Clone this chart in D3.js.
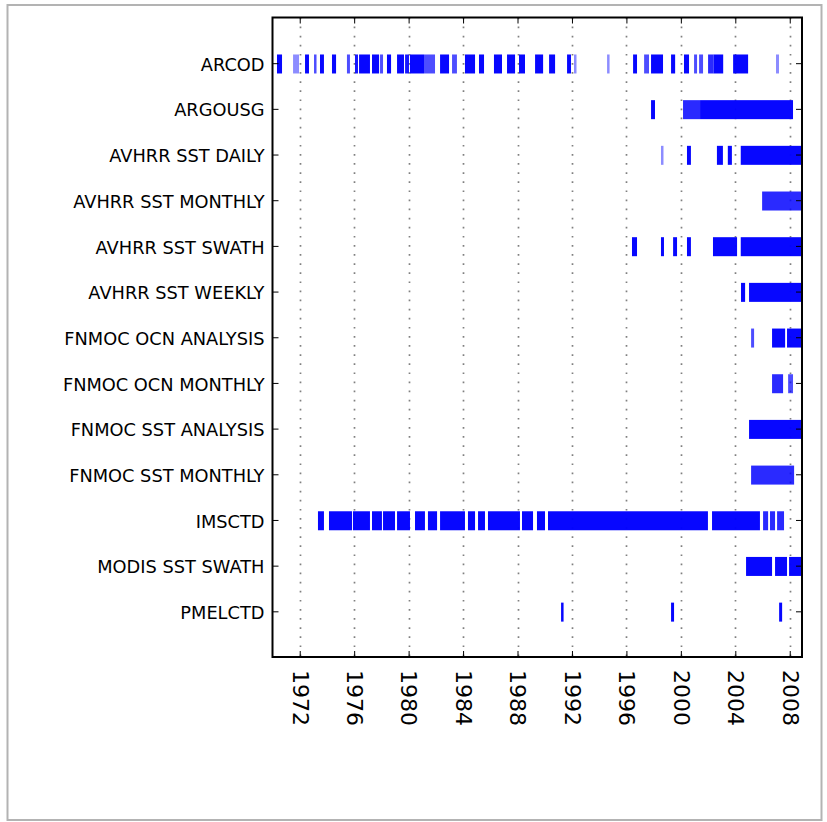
<!DOCTYPE html>
<html>
<head>
<meta charset="utf-8">
<script src="https://cdn.jsdelivr.net/npm/d3@7"></script>
<style>
  html, body { margin: 0; padding: 0; background: #fff; }
  svg { display: block; }
  text { font-family: "DejaVu Sans", sans-serif; fill: #000; }
</style>
</head>
<body>
<svg id="chart" width="827" height="822"></svg>
<script>
// ---- data (years as decimal; [start, end, records overlapping]) ----
const categories = ["ARCOD", "ARGOUSG", "AVHRR SST DAILY", "AVHRR SST MONTHLY", "AVHRR SST SWATH",
  "AVHRR SST WEEKLY", "FNMOC OCN ANALYSIS", "FNMOC OCN MONTHLY", "FNMOC SST ANALYSIS",
  "FNMOC SST MONTHLY", "IMSCTD", "MODIS SST SWATH", "PMELCTD"];

const xTickYears = [1972, 1976, 1980, 1984, 1988, 1992, 1996, 2000, 2004, 2008];
const xDomain = [1970, 2008.9];

const arcod = [
  [1970.33, 1970.70, 6], [1971.51, 1971.95, 1], [1972.39, 1972.68, 6], [1973.05, 1973.20, 2],
  [1973.49, 1973.78, 6], [1974.37, 1974.67, 6], [1975.47, 1975.69, 2], [1976.06, 1976.28, 4],
  [1976.36, 1977.16, 6], [1977.31, 1977.83, 6], [1977.90, 1978.12, 2], [1978.41, 1978.71, 6],
  [1979.15, 1979.66, 6], [1979.74, 1980.03, 4], [1980.10, 1981.13, 6], [1981.13, 1981.94, 2],
  [1982.31, 1982.97, 6], [1983.19, 1983.55, 2], [1984.14, 1984.88, 6], [1985.17, 1985.54, 6],
  [1986.27, 1986.86, 6], [1987.23, 1987.82, 6], [1988.11, 1988.55, 6], [1989.29, 1989.88, 6],
  [1990.32, 1990.76, 6], [1991.64, 1991.93, 6], [1992.15, 1992.30, 1], [1994.58, 1994.73, 1],
  [1996.49, 1996.78, 6], [1997.30, 1997.66, 2], [1997.81, 1998.69, 6], [1999.28, 1999.58, 6],
  [2000.23, 2000.60, 6], [2000.97, 2001.19, 2], [2001.34, 2001.63, 2], [2002.00, 2002.40, 3],
  [2002.40, 2003.11, 6], [2003.84, 2004.94, 6], [2006.99, 2007.21, 1]
];
const argousg = [[1997.81, 1998.10, 6], [2000.16, 2001.41, 3], [2001.41, 2008.24, 6]];
const avhrrDaily = [[1998.54, 1998.69, 1], [2000.45, 2000.74, 6], [2002.65, 2003.09, 6],
  [2003.45, 2003.75, 6], [2004.40, 2008.9, 6]];
const avhrrMonthly = [[2005.97, 2008.9, 3]];
const avhrrSwath = [[1996.41, 1996.78, 6], [1998.54, 1998.76, 6], [1999.43, 1999.72, 6],
  [2000.45, 2000.74, 6], [2002.36, 2004.13, 6], [2004.40, 2008.9, 6]];
const avhrrWeekly = [[2004.42, 2004.72, 6], [2005.01, 2008.9, 6]];
const fnmocOcnAnalysis = [[2005.16, 2005.38, 2], [2006.70, 2007.66, 6], [2007.80, 2008.9, 6]];
const fnmocOcnMonthly = [[2006.70, 2007.51, 3], [2007.88, 2008.24, 2]];
const fnmocSstAnalysis = [[2005.01, 2008.9, 6]];
const fnmocSstMonthly = [[2005.16, 2008.32, 3]];
const imsctd = [
  [1973.34, 1973.78, 6], [1974.15, 1975.84, 6], [1975.91, 1977.16, 6], [1977.31, 1978.04, 6],
  [1978.12, 1979.00, 6], [1979.15, 1980.10, 6], [1980.47, 1981.20, 6], [1981.42, 1982.09, 6],
  [1982.31, 1984.14, 6], [1984.36, 1984.88, 6], [1985.10, 1985.61, 6], [1985.83, 1988.18, 6],
  [1988.33, 1989.14, 6], [1989.43, 1990.02, 6], [1990.24, 2001.99, 6], [2002.29, 2005.81, 6],
  [2006.04, 2006.41, 3], [2006.55, 2006.92, 3], [2007.07, 2007.58, 3]
];
const modisSwath = [[2004.79, 2006.70, 6], [2006.92, 2007.80, 6], [2007.95, 2008.9, 6]];
const pmelctd = [[1991.20, 1991.35, 6], [1999.28, 1999.50, 6], [2007.22, 2007.44, 6]];

const segmentsByCategory = [arcod, argousg, avhrrDaily, avhrrMonthly, avhrrSwath, avhrrWeekly,
  fnmocOcnAnalysis, fnmocOcnMonthly, fnmocSstAnalysis, fnmocSstMonthly, imsctd, modisSwath, pmelctd];

(function draw() {
  const svg = d3.select("#chart");
  const pL = 272.5, pR = 802, pT = 17.5, pB = 657;
  const recordAlpha = 0.45;

  // outer frame
  svg.append("rect").attr("x", 7.5).attr("y", 5).attr("width", 814).attr("height", 815)
    .attr("fill", "#fff").attr("stroke", "#b3b3b3").attr("stroke-width", 2);

  const x = d3.scaleLinear().domain(xDomain).range([pL, pR]);
  const y = d3.scalePoint().domain(categories).range([pT, pB]).padding(1);

  const plot = svg.append("g");
  plot.append("clipPath").attr("id", "clip").append("rect")
    .attr("x", pL).attr("y", pT).attr("width", pR - pL).attr("height", pB - pT);

  // grid lines
  plot.append("g").selectAll("line").data(xTickYears).join("line")
    .attr("x1", d => Math.round(x(d)) + 0.5).attr("x2", d => Math.round(x(d)) + 0.5)
    .attr("y1", pT).attr("y2", pB)
    .attr("stroke", "#808080").attr("stroke-width", 1.7).attr("stroke-dasharray", "1.7,7.4");

  // bars
  const barH = 19;
  const rows = categories.map((c, i) => ({ cat: c, segs: segmentsByCategory[i] }));
  plot.append("g").attr("clip-path", "url(#clip)")
    .selectAll("g").data(rows).join("g")
    .selectAll("rect").data(r => r.segs.map(s => ({ cat: r.cat, s }))).join("rect")
    .attr("x", d => x(d.s[0]))
    .attr("width", d => Math.max(2.5, x(d.s[1]) - x(d.s[0])))
    .attr("y", d => y(d.cat) - barH / 2 + 0.8)
    .attr("height", barH)
    .attr("fill", "#0000ff")
    .attr("fill-opacity", d => 1 - Math.pow(1 - recordAlpha, d.s[2]));

  // axes
  const xAxisB = d3.axisBottom(x).tickValues(xTickYears).tickSize(-6).tickFormat(d3.format("d"));
  const xAxisT = d3.axisTop(x).tickValues(xTickYears).tickSize(-6).tickFormat("");
  const yAxisL = d3.axisLeft(y).tickSize(-6);
  const yAxisR = d3.axisRight(y).tickSize(-6).tickFormat("");

  const gB = svg.append("g").attr("transform", `translate(0,${pB})`).call(xAxisB);
  gB.selectAll(".tick text")
    .attr("transform", "rotate(90)")
    .attr("x", 13).attr("y", 0).attr("dy", "0.35em")
    .attr("text-anchor", "start")
    .style("font-size", "22px");
  const gT = svg.append("g").attr("transform", `translate(0,${pT})`).call(xAxisT);
  const gL = svg.append("g").attr("transform", `translate(${pL},0)`).call(yAxisL);
  gL.selectAll(".tick text").attr("x", -8).attr("dy", "0.4em").style("font-size", "17.8px");
  const gR = svg.append("g").attr("transform", `translate(${pR},0)`).call(yAxisR);

  [gB, gT, gL, gR].forEach(g => {
    g.select(".domain").remove();
    g.selectAll(".tick line").attr("stroke", "#000").attr("stroke-width", 1);
    g.attr("font-family", null).attr("font-size", null);
  });

  // frame
  svg.append("rect").attr("x", pL).attr("y", pT).attr("width", pR - pL).attr("height", pB - pT)
    .attr("fill", "none").attr("stroke", "#000").attr("stroke-width", 2);
})();
</script>
</body>
</html>
